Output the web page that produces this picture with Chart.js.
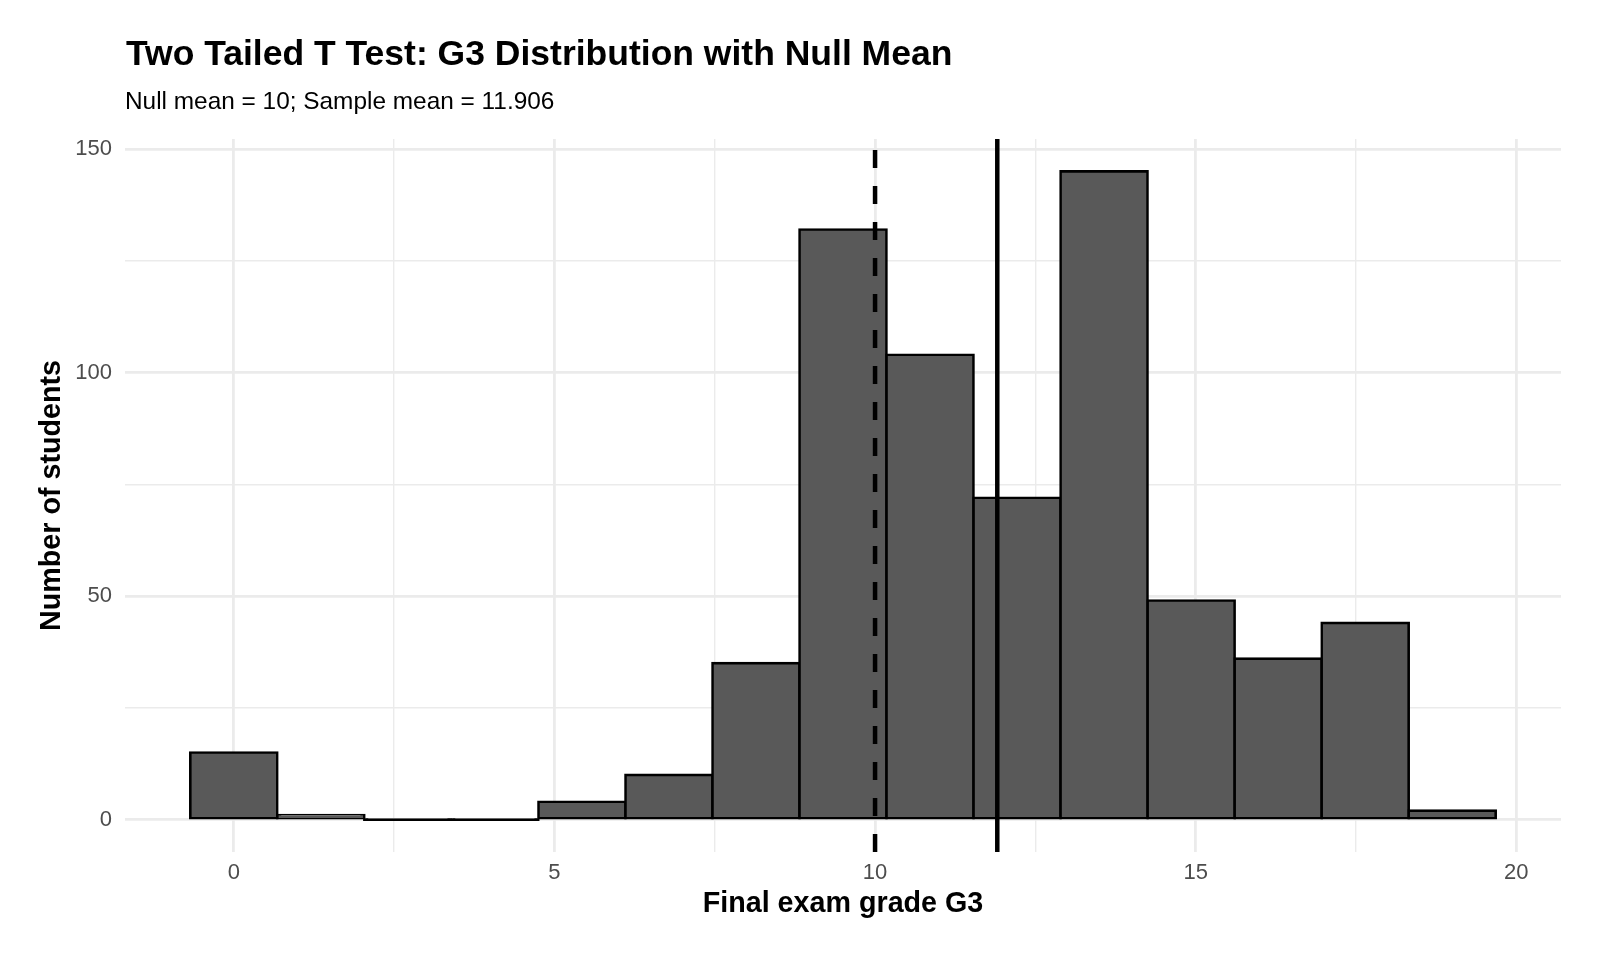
<!DOCTYPE html>
<html><head><meta charset="utf-8">
<script src="https://cdn.jsdelivr.net/npm/chart.js@4.4.1/dist/chart.umd.min.js"></script>
<style>html,body{margin:0;padding:0;background:#fff;} canvas{display:block;}</style>
</head><body>
<canvas id="c" width="1600" height="960"></canvas>
<script>
const titleText = 'Two Tailed T Test: G3 Distribution with Null Mean';
const subtitleText = 'Null mean = 10; Sample mean = 11.906';
const xAxisTitle = 'Final exam grade G3';
const yAxisTitle = 'Number of students';
const binCenters = [0, 1.357, 2.714, 4.071, 5.429, 6.786, 8.143, 9.5, 10.857, 12.214, 13.571, 14.929, 16.286, 17.643, 19];
const counts = [15, 1, 0, 0, 4, 10, 35, 132, 104, 72, 145, 49, 36, 44, 2];
const nullMean = 10;
const sampleMean = 11.906;
const xMajorTicks = [0, 5, 10, 15, 20];
const xMinorTicks = [2.5, 7.5, 12.5, 17.5];
const yMajorTicks = [0, 50, 100, 150];
const yMinorTicks = [25, 75, 125];
const xRange = [-1.697, 20.697];
const yRange = [-7.25, 152.25];

const FONT = '"Liberation Sans", Arial, Helvetica, sans-serif';

const titlePlugin = {
  id: 'titles',
  afterDraw(chart) {
    const ctx = chart.ctx;
    ctx.save();
    ctx.fillStyle = '#000';
    ctx.textAlign = 'left';
    ctx.textBaseline = 'alphabetic';
    ctx.font = 'bold 35.5px ' + FONT;
    ctx.fillText(titleText, 126, 65);
    ctx.font = '24.4px ' + FONT;
    ctx.fillText(subtitleText, 125, 108.5);
    ctx.restore();
  }
};

const allX = xMajorTicks.concat(xMinorTicks).sort((a, b) => a - b);
const allY = yMajorTicks.concat(yMinorTicks).sort((a, b) => a - b);

new Chart(document.getElementById('c'), {
  type: 'bar',
  data: {
    datasets: [
      {
        type: 'line',
        data: [{x: nullMean, y: yRange[0]}, {x: nullMean, y: yRange[1]}],
        borderColor: '#000', borderWidth: 4.5, borderDash: [18, 18],
        pointRadius: 0, fill: false, order: 0
      },
      {
        type: 'line',
        data: [{x: sampleMean, y: yRange[0]}, {x: sampleMean, y: yRange[1]}],
        borderColor: '#000', borderWidth: 4.5,
        pointRadius: 0, fill: false, order: 0
      },
      {
        type: 'bar',
        data: binCenters.map((x, i) => ({x: x, y: counts[i]})),
        backgroundColor: (c) => (c.raw && c.raw.y === 0) ? '#000' : '#595959',
        borderColor: '#000',
        borderWidth: 2.6,
        borderSkipped: false,
        inflateAmount: 1.3,
        minBarLength: 0.2,
        barPercentage: 1,
        categoryPercentage: 1,
        order: 2
      }
    ]
  },
  options: {
    responsive: false,
    devicePixelRatio: 1,
    animation: false,
    layout: {padding: {top: 139, right: 39, bottom: 0, left: 0}},
    plugins: {legend: {display: false}, tooltip: {enabled: false}, title: {display: false}},
    scales: {
      x: {
        type: 'linear',
        min: xRange[0], max: xRange[1],
        offset: false,
        grid: {
          offset: false,
          color: '#EBEBEB',
          lineWidth: (c) => (c.tick && xMajorTicks.includes(c.tick.value)) ? 2.8 : 1.4,
          drawTicks: false
        },
        border: {display: false},
        afterBuildTicks: (s) => { s.ticks = allX.map(v => ({value: v})); },
        afterFit: (s) => { s.height = 108; },
        ticks: {
          autoSkip: false, maxRotation: 0, padding: 8,
          color: '#4D4D4D', font: {family: FONT, size: 22},
          callback: (v) => xMajorTicks.includes(v) ? String(v) : ''
        },
        title: {
          display: true, text: xAxisTitle, color: '#000',
          font: {family: FONT, size: 28.7, weight: 'bold'},
          padding: {top: 0, bottom: 38.5}
        }
      },
      y: {
        type: 'linear',
        min: yRange[0], max: yRange[1],
        grid: {
          color: '#EBEBEB',
          lineWidth: (c) => (c.tick && yMajorTicks.includes(c.tick.value)) ? 2.8 : 1.4,
          drawTicks: false
        },
        border: {display: false},
        afterBuildTicks: (s) => { s.ticks = allY.map(v => ({value: v})); },
        afterFit: (s) => { s.width = 125; },
        ticks: {
          autoSkip: false, padding: 13,
          color: '#4D4D4D', font: {family: FONT, size: 22},
          callback: (v) => yMajorTicks.includes(v) ? String(v) : ''
        },
        title: {
          display: true, text: yAxisTitle, color: '#000',
          font: {family: FONT, size: 28.7, weight: 'bold'},
          padding: {top: 35, bottom: 0}
        }
      }
    }
  },
  plugins: [titlePlugin]
});
</script>
</body></html>
